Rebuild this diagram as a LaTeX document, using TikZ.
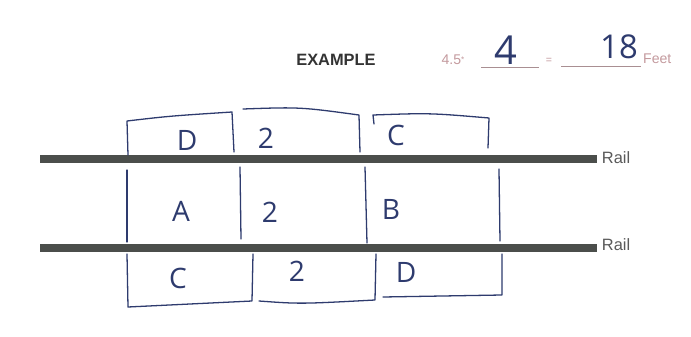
\documentclass[tikz,border=0pt]{standalone}
\usepackage{fontspec}
\setmainfont{Liberation Sans}
\newfontfamily\handfont{Open Sans}
\usetikzlibrary{positioning}
\definecolor{ink}{HTML}{2E3B6E}
\definecolor{railgray}{HTML}{4B4E4B}
\definecolor{formpink}{HTML}{C49A9E}
\definecolor{labgray}{HTML}{5A5A5A}

\begin{document}
\begin{tikzpicture}[
  x=0.03cm, y=-0.03cm,
  pen/.style={draw=ink, line width=1.1pt, line cap=round, line join=round},
  rail/.style={draw=railgray, line width=0.25cm},
  hand/.style={font=\handfont\fontsize{24}{24}\selectfont, text=ink, inner sep=0pt},
  raillab/.style={font=\fontsize{14}{16}\selectfont, text=labgray, anchor=west, inner sep=4pt},
  form/.style={font=\fontsize{12}{14}\selectfont, text=formpink, inner sep=0pt},
  blank/.style={draw=formpink!60!gray, line width=0.5pt}
]
\useasboundingbox[fill=white] (0,0) rectangle (691,337);

% ---------------- heading ----------------
\node[font=\bfseries\fontsize{14}{16}\selectfont, text=black!80] (title) at (336,60) {EXAMPLE};
\node[form] (rate) at (453,60) {4.5\raisebox{2pt}{\scriptsize*}};
\node[form] (eq) at (549,61) {\small=};
\node[form, anchor=south west] (feet) at (643,64) {Feet};
\coordinate (b1w) at (481,67);
\coordinate (b1e) at (539,67);
\coordinate (b2w) at (561,66);
\coordinate (b2e) at (641,66);
\draw[blank] (b1w) -- (b1e);
\draw[blank] (b2w) -- (b2e);
\node[hand, font=\handfont\fontsize{34}{34}\selectfont] (times) at (506,50) {4};
\node[hand, font=\handfont\fontsize{28}{28}\selectfont] (total) at (619,47) {18};

% ---------------- rails ----------------
\node[raillab] (rail1) at (597,158) {Rail};
\node[raillab] (rail2) at (597,245) {Rail};
\coordinate (r1w) at (40,159);
\coordinate (r2w) at (40,248);
\draw[rail] (r1w) -- (r1w -| rail1.west);
\draw[rail] (r2w) -- (r2w -| rail2.west);

% ---------------- row above the first rail ----------------
\draw[pen] (128,155) -- (127,121) .. controls (170,116) .. (232,112) -- (234,152);
\draw[pen] (243,109) .. controls (300,107) .. (359,115) -- (360,152);
\draw[pen] (374,124) -- (373,115) .. controls (430,113) .. (489,118) -- (488,148);
\node[hand] (tl) at (187,140) {D};
\node[hand] (tm) at (266,138) {2};
\node[hand] (tr) at (396,135) {C};

% ---------------- row between the rails ----------------
\draw[pen] (127,170) -- (127,242);
\draw[pen] (240,167) -- (241,239);
\draw[pen] (365,167) -- (367,243);
\draw[pen] (499,169) -- (500,241);
\node[hand] (ml) at (181,211) {A};
\node[hand] (mm) at (270,212) {2};
\node[hand] (mr) at (391,209) {B};

% ---------------- row below the second rail ----------------
\draw[pen] (127,254) -- (128,307) -- (252,301) -- (253,254);
\draw[pen] (259,301) .. controls (300,304) .. (375,300) -- (376,254);
\draw[pen] (383,297) -- (502,295) -- (502,254);
\node[hand] (bl) at (178,278) {C};
\node[hand] (bm) at (297,271) {2};
\node[hand] (br) at (406,272) {D};

\end{tikzpicture}
\end{document}
